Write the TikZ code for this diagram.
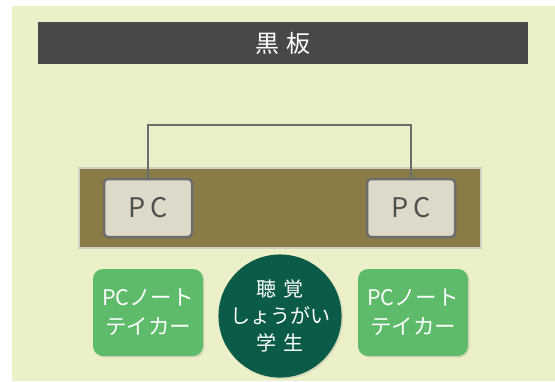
\documentclass[tikz,border=0pt]{standalone}
\usepackage{fontspec}
\setmainfont{Noto Sans CJK JP}
\usetikzlibrary{shadows}
\definecolor{bgc}{HTML}{EBF0C9}
\definecolor{boardc}{HTML}{4A4749}
\definecolor{deskc}{HTML}{8A7C47}
\definecolor{deskedge}{HTML}{CFD0BF}
\definecolor{pcfill}{HTML}{DDDAC9}
\definecolor{pcedge}{HTML}{6D6D6D}
\definecolor{pctext}{HTML}{505050}
\definecolor{greenc}{HTML}{5DBB69}
\definecolor{studc}{HTML}{0A5B48}
\tikzset{
  pcbox/.style={draw=pcedge, line width=2.5pt, fill=pcfill, rounded corners=4pt,
    minimum width=88pt, minimum height=58pt, inner sep=0pt, text=pctext,
    font=\fontsize{27}{30}\selectfont,
    drop shadow={opacity=0.25, shadow xshift=1.5pt, shadow yshift=-1.5pt}},
  takerbox/.style={fill=greenc, rounded corners=10pt, minimum width=110pt,
    minimum height=87pt, inner sep=0pt, text=white, align=center,
    font=\fontsize{21.5}{29}\selectfont,
    drop shadow={opacity=0.2, shadow xshift=1.5pt, shadow yshift=-1.5pt}},
  studcirc/.style={circle, fill=studc, minimum size=104pt, inner sep=0pt,
    text=white, align=center, font=\fontsize{20}{27}\selectfont,
    drop shadow={opacity=0.2, shadow xshift=1.5pt, shadow yshift=-1.5pt}},
  wire/.style={draw=pcedge, line width=2.5pt}
}
\begin{document}
\begin{tikzpicture}[x=1pt,y=-1pt]
\useasboundingbox (0,0) rectangle (555,381);
\fill[bgc] (12,6) rectangle (555,381);
% blackboard
\node[fill=boardc, minimum width=490pt, minimum height=42pt, inner sep=0pt,
  text=white, font=\fontsize{24}{27}\selectfont] (board) at (283,43) {黒\hspace{0.3em}板};
% desk
\node[fill=deskc, draw=deskedge, line width=2.5pt, minimum width=402pt,
  minimum height=80pt, inner sep=0pt] (desk) at (280,208) {};
% PCs
\node[pcbox] (pcL) at (148,208) {P\hspace{0.2em}C};
\node[pcbox] (pcR) at (411,208) {P\hspace{0.2em}C};
\draw[wire] (pcL.north) -- ++(0,-53) -| (pcR.north);
% note takers
\node[takerbox] (tkL) at (148,312.5) {PCノート\\テイカー};
\node[takerbox] (tkR) at (413,312.5) {PCノート\\テイカー};
% student
\node[studcirc] (stud) at (280,316) {聴\hspace{0.4em}覚\\しょうがい\\学\hspace{0.4em}生};
\end{tikzpicture}
\end{document}
